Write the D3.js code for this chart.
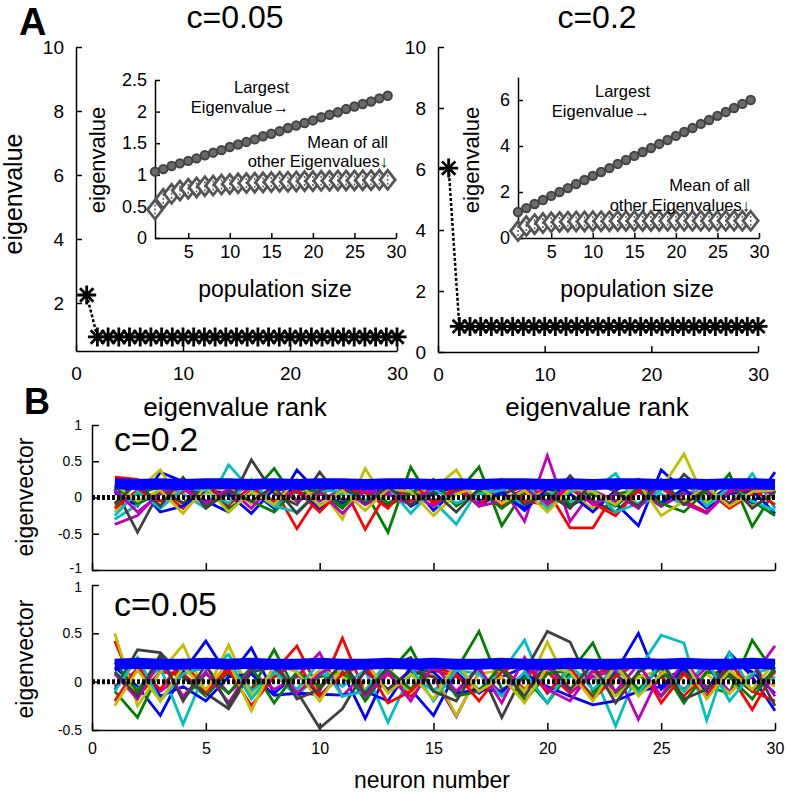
<!DOCTYPE html>
<html>
<head>
<meta charset="utf-8">
<script src="https://cdn.jsdelivr.net/npm/d3@7.9.0/dist/d3.min.js"></script>
<style>
  body { margin: 0; background: #fff; }
  svg { font-family: Arial, 'Liberation Sans', sans-serif; }
</style>
</head>
<body>
<svg id="fig" width="788" height="793"></svg>
<script>
// ---- data ----
const rank = [1, 2, 3, 4, 5, 6, 7, 8, 9, 10, 11, 12, 13, 14, 15, 16, 17, 18, 19, 20, 21, 22, 23, 24, 25, 26, 27, 28, 29, 30];
const popSize = [1, 2, 3, 4, 5, 6, 7, 8, 9, 10, 11, 12, 13, 14, 15, 16, 17, 18, 19, 20, 21, 22, 23, 24, 25, 26, 27, 28, 29];

// eigenvalue spectrum (rank 1..30)
const eigC005 = [2.25, 0.94, 0.94, 0.94, 0.94, 0.94, 0.94, 0.94, 0.94, 0.94, 0.94, 0.94, 0.94, 0.94, 0.94, 0.94, 0.94, 0.94, 0.94, 0.94, 0.94, 0.94, 0.94, 0.94, 0.94, 0.94, 0.94, 0.94, 0.94, 0.94];
const eigC02 = [6.03, 0.84, 0.84, 0.84, 0.84, 0.84, 0.84, 0.84, 0.84, 0.84, 0.84, 0.84, 0.84, 0.84, 0.84, 0.84, 0.84, 0.84, 0.84, 0.84, 0.84, 0.84, 0.84, 0.84, 0.84, 0.84, 0.84, 0.84, 0.84, 0.84];

// insets: largest eigenvalue and mean of the rest vs population size
const largestC005 = [1.05, 1.09, 1.14, 1.18, 1.22, 1.26, 1.31, 1.35, 1.39, 1.44, 1.48, 1.52, 1.56, 1.61, 1.65, 1.69, 1.74, 1.78, 1.82, 1.86, 1.91, 1.95, 1.99, 2.04, 2.08, 2.12, 2.16, 2.21, 2.25];
const meanC005 = [0.45, 0.62, 0.70, 0.75, 0.78, 0.80, 0.82, 0.83, 0.845, 0.855, 0.865, 0.87, 0.875, 0.88, 0.885, 0.89, 0.89, 0.895, 0.90, 0.90, 0.905, 0.905, 0.91, 0.91, 0.91, 0.915, 0.915, 0.92, 0.92];
const largestC02 = [1.13, 1.30, 1.48, 1.65, 1.83, 2.00, 2.17, 2.35, 2.52, 2.70, 2.87, 3.04, 3.22, 3.39, 3.57, 3.74, 3.91, 4.09, 4.26, 4.44, 4.61, 4.78, 4.96, 5.13, 5.31, 5.48, 5.65, 5.83, 6.00];
const meanC02 = [0.30, 0.52, 0.60, 0.65, 0.68, 0.70, 0.71, 0.72, 0.72, 0.73, 0.73, 0.73, 0.74, 0.74, 0.74, 0.74, 0.74, 0.74, 0.75, 0.75, 0.75, 0.75, 0.75, 0.75, 0.75, 0.75, 0.75, 0.75, 0.75];

// eigenvectors (x100), neuron 1..30
const vecsC02 = [
  [8, -12, 35, 22, -5, -20, 10, -15, 38, 5, -8, 15, -10, 20, -18, 12, -5, 8, -15, 10, -12, 5, -8, -39, 38, 10, -5, 15, -10, 35],
  [-10, 5, 15, -8, 12, -15, 5, 40, -5, 10, -12, 8, -48, 42, -10, 5, 42, -39, 10, -5, 12, -8, 5, 10, -12, 8, -5, 33, -40, 10],
  [28, 25, 10, -15, 20, 15, -8, 12, -43, 5, 18, -44, 10, -5, 15, -10, 8, -12, 5, 10, -42, -42, 8, -10, 12, -5, 10, -15, 5, 12],
  [-30, -10, 12, 5, -15, 45, 10, -12, 8, -10, 5, 12, -8, 10, -5, -37, 12, 5, -10, 8, -5, 10, 33, -12, 5, -10, 12, -8, 33, -15],
  [-37, -25, 8, 12, -10, 5, 15, -8, 10, -5, 12, -10, 8, 5, -12, 10, -8, 15, -33, 58, -33, 10, -5, 8, -12, 5, 10, -8, 12, 5],
  [-20, 10, 38, -12, 5, 15, -8, 10, -5, 12, -30, 40, -10, 5, 12, 38, -12, 8, -5, 10, 5, -15, 8, -10, 12, 60, -8, 10, -12, 5],
  [12, -48, 10, -8, 15, -12, 52, 5, -10, 35, -5, 10, -12, 8, -5, 12, -10, 5, 15, -8, 30, -5, -20, 10, -8, 32, 5, -10, 8, 15],
  [5, 15, -20, -12, 10, 5, -22, 12, 8, -15, 10, -5, 20, -12, 5, 15, -10, 8, -18, 12, 5, -20, 10, 25, -8, 12, -15, 5, 10, -22],
  [15, -8, 5, 20, -12, 10, -5, -20, 12, 8, -15, 22, -8, 5, 25, -12, 10, -15, 8, 20, -10, 5, -12, 15, -8, -20, 10, 22, -5, -25],
  [-15, 10, -5, 8, 22, -10, 15, -5, 10, -20, 12, 8, -15, 22, -8, 15, -12, 20, -5, -10, 12, -8, -25, 10, 15, -5, -20, 8, 12, -10],
  [-25, 8, -15, 12, 10, -8, 25, -12, -20, 10, 8, -5, 15, -22, 12, -8, 5, 10, 22, -15, 8, 12, -20, -8, 10, 25, -12, 15, -5, -18],
  [10, -20, 5, 15, -8, 12, -15, 20, -5, 8, -22, 10, 5, -10, 15, 22, -12, -5, 12, -8, 18, -10, 5, -15, 20, -8, -22, 10, 15, 5],
  [18, -5, 10, -22, 15, -20, 8, -10, 25, -12, 10, -18, 12, 8, -25, 5, 15, -8, 10, -20, 12, 8, -10, 20, -25, -5, 15, -12, 8, 10],
  [-8, 20, -12, 28, -15, 8, -5, 15, -22, 10, 20, -8, 15, -10, 8, -20, 12, 25, -10, 5, -15, 22, 8, -12, 25, -10, 12, 20, -15, 8]
];
const vecsC005 = [
  [15, -5, -35, 10, 42, 5, 35, -12, 8, -15, 10, -38, 12, -8, -35, 10, -12, 5, 15, -10, 8, -15, 10, 50, -8, 12, -10, 30, 5, -30],
  [-10, -37, 12, 5, -15, 10, -8, 33, -12, 5, 10, -15, 8, 35, -10, 12, 52, -8, 5, -22, 10, 40, -12, 8, -15, 10, -5, -12, 43, 8],
  [42, -15, 10, 8, -12, 15, -8, 10, 37, -10, 45, -12, 8, -15, 12, 5, -10, 15, -8, 10, -12, 8, 15, -10, 5, -15, 10, 8, -29, 12],
  [10, -8, 15, -44, 12, 28, -10, 8, -15, 10, -5, 12, -42, 8, -10, 15, -8, 10, 43, -12, 5, 10, -46, 12, 48, 40, -40, 30, -10, 5],
  [-5, 12, -10, 8, 15, -12, 10, -8, 5, 30, -15, 10, -8, 12, 5, -36, 10, -12, 8, 15, -10, 5, 12, -39, 10, -8, 15, -10, 5, 37],
  [50, -25, 10, 38, -12, 38, -15, 8, -10, 12, 5, -8, 15, -12, 10, -35, 8, 12, -10, 41, -8, 10, -15, 5, 12, -10, 8, -12, 10, -5],
  [-8, 33, 30, 5, -12, -28, 10, 15, -10, -48, -28, 12, -8, 10, 5, -12, 15, -37, 10, 52, 41, -10, 8, -12, 5, 10, -15, 8, -10, 12],
  [12, 20, -15, -5, -20, 5, 8, -14, -12, -13, -14, -10, -20, 15, 10, -12, -8, -10, 8, -5, -15, -24, -20, -10, -5, 15, -8, 22, 10, -12],
  [20, -10, 25, -18, 8, -12, 15, -22, 10, -5, 18, -20, 12, -8, 22, -15, -10, 18, -20, 8, 12, -15, 20, -8, 15, -22, 10, 5, -18, 15],
  [-20, 15, -8, 22, -10, 12, -25, 5, 20, -15, 8, 18, -22, -10, 15, 8, -20, 10, 22, -12, 15, -18, 5, 20, -22, 8, -15, 20, -10, -20],
  [-10, 25, -20, 8, 15, 22, -18, 10, -8, 20, -15, -10, 22, 15, -20, 12, 8, -15, 10, -22, 18, -8, 15, -12, 20, -10, 22, -20, 8, 15],
  [8, -18, 22, -15, 10, -22, 15, 20, -12, 8, 22, -15, 10, -20, 18, -10, 15, -22, 25, -8, -20, 12, -10, 18, -15, 22, -8, 12, 20, -15],
  [-25, 12, -20, 15, -8, 20, -30, 18, 10, -20, 15, 22, -12, 8, -18, 20, -10, 5, -22, 15, 10, -20, 18, -15, 8, 22, -18, 12, -8, 20],
  [10, -15, 28, -20, 18, -25, 12, 22, -18, -8, 20, -12, 15, 25, -10, -20, 18, 12, -15, 20, -8, 18, -22, 10, 22, -18, -8, 15, 20, -25]
];
const principalC02 = [19, 18, 19, 18, 19, 19, 18, 19, 18, 19, 19, 18, 19, 19, 18, 19, 18, 19, 19, 18, 19, 18, 19, 19, 18, 19, 18, 19, 19, 18];
const principalC005 = [18, 19, 18, 18, 19, 18, 19, 18, 18, 19, 18, 18, 19, 18, 19, 18, 18, 19, 18, 18, 19, 18, 18, 19, 18, 19, 18, 18, 19, 18];

const lineColors = ['#0000ff', '#008000', '#ff0000', '#00bfbf', '#bf00bf', '#bfbf00', '#404040'];

const svg = d3.select('#fig');

// matlab-ish axis: inward ticks, no outer ticks
function drawAxis(g, axis, transform, fontSize) {
  const a = g.append('g')
    .attr('transform', transform)
    .call(axis);
  a.attr('font-family', null).attr('font-size', fontSize);
  a.select('.domain').attr('stroke', '#000').attr('stroke-width', 1.5);
  a.selectAll('.tick line').attr('stroke', '#000').attr('stroke-width', 1.5);
  a.selectAll('.tick text').attr('fill', '#000');
  return a;
}

function addText(txt, x, y, size, opts = {}) {
  const t = svg.append('text')
    .attr('x', x)
    .attr('y', y)
    .attr('font-size', size)
    .attr('text-anchor', opts.anchor || 'start')
    .attr('font-weight', opts.bold ? 'bold' : null)
    .text(txt);
  if (opts.rotate) t.attr('transform', `rotate(-90, ${x}, ${y})`);
  return t;
}

function starPath(s) {
  const a = s * 0.707;
  return `M${-s},0H${s}M0,${-s}V${s}M${-a},${-a}L${a},${a}M${-a},${a}L${a},${-a}`;
}

// ---- panel A main plots ----
function renderSpectrum(vals, xr, yDomain, yr, yTicks) {
  const x = d3.scaleLinear().domain([0, 30]).range(xr);
  const y = d3.scaleLinear().domain(yDomain).range(yr);
  const g = svg.append('g');

  drawAxis(g, d3.axisBottom(x).tickValues([0, 10, 20, 30]).tickSizeInner(-6).tickSizeOuter(0).tickPadding(16),
    `translate(0,${yr[0]})`, 19);
  drawAxis(g, d3.axisLeft(y).tickValues(yTicks).tickSizeInner(-6).tickSizeOuter(0).tickPadding(12),
    `translate(${xr[0]},0)`, 19);

  g.append('path')
    .datum(vals)
    .attr('fill', 'none')
    .attr('stroke', '#000')
    .attr('stroke-width', 2.5)
    .attr('stroke-dasharray', '3,2')
    .attr('d', d3.line().x((d, i) => x(rank[i])).y(d => y(d)));

  g.selectAll('path.star')
    .data(vals)
    .join('path')
      .attr('class', 'star')
      .attr('transform', (d, i) => `translate(${x(rank[i])},${y(d)})`)
      .attr('d', starPath(9.5))
      .attr('fill', 'none')
      .attr('stroke', '#000')
      .attr('stroke-width', 2.8);
}

// ---- panel A insets ----
function renderInset(largest, mean, xr, yDomain, yr, yTicks) {
  const x = d3.scaleLinear().domain([1, 30]).range(xr);
  const y = d3.scaleLinear().domain(yDomain).range(yr);
  const g = svg.append('g');

  drawAxis(g, d3.axisBottom(x).tickValues([5, 10, 15, 20, 25, 30]).tickSizeInner(-5).tickSizeOuter(0).tickPadding(7),
    `translate(0,${yr[0]})`, 18);
  drawAxis(g, d3.axisLeft(y).tickValues(yTicks).tickFormat(d => String(d)).tickSizeInner(-5).tickSizeOuter(0).tickPadding(8),
    `translate(${xr[0]},0)`, 18);

  const dia = g.selectAll('g.dia')
    .data(mean)
    .join('g')
      .attr('class', 'dia')
      .attr('transform', (d, i) => `translate(${x(popSize[i])},${y(d)})`);
  dia.append('path')
    .attr('d', 'M0,-9.5L7.5,0L0,9.5L-7.5,0Z')
    .attr('fill', '#fff')
    .attr('stroke', '#555')
    .attr('stroke-width', 2.8);
  dia.append('path')
    .attr('d', 'M0,-5V5')
    .attr('stroke', '#555')
    .attr('stroke-width', 1.5)
    .attr('stroke-dasharray', '2,2');

  g.selectAll('circle')
    .data(largest)
    .join('circle')
      .attr('cx', (d, i) => x(popSize[i]))
      .attr('cy', d => y(d))
      .attr('r', 4.2)
      .attr('fill', '#6a6a6a')
      .attr('stroke', '#444')
      .attr('stroke-width', 2);
}

renderSpectrum(eigC005, [76, 397], [0.5, 10], [351, 47], [2, 4, 6, 8, 10]);
renderSpectrum(eigC02, [438, 758], [0, 10], [352, 47], [0, 2, 4, 6, 8, 10]);
renderInset(largestC005, meanC005, [155, 396], [0, 2.5], [238, 80], [0, 0.5, 1, 1.5, 2, 2.5]);
renderInset(largestC02, meanC02, [518, 759], [0, 7], [238, 77], [0, 2, 4, 6]);

// panel A labels
addText('A', 19, 35, 38, { bold: true });
addText('c=0.05', 235, 28, 32, { anchor: 'middle' });
addText('c=0.2', 597, 28, 32, { anchor: 'middle' });
addText('eigenvalue', 22, 194, 25, { anchor: 'middle', rotate: true });
addText('eigenvalue rank', 235, 416, 26, { anchor: 'middle' });
addText('eigenvalue rank', 597, 416, 26, { anchor: 'middle' });
addText('eigenvalue', 105, 160, 22, { anchor: 'middle', rotate: true });
addText('eigenvalue', 479, 160, 22, { anchor: 'middle', rotate: true });
addText('population size', 275, 297, 23, { anchor: 'middle' });
addText('population size', 637, 297, 23, { anchor: 'middle' });
addText('Largest', 289, 93, 16.5, { anchor: 'end' });
addText('Eigenvalue\u2192', 289, 113, 16.5, { anchor: 'end' });
addText('Mean of all', 388, 148, 16.5, { anchor: 'end' });
addText('other Eigenvalues\u2193', 388, 167, 16.5, { anchor: 'end' });
addText('Largest', 650, 97, 16.5, { anchor: 'end' });
addText('Eigenvalue\u2192', 650, 117, 16.5, { anchor: 'end' });
addText('Mean of all', 750, 191, 16.5, { anchor: 'end' });
addText('other Eigenvalues\u2193', 750, 211, 16.5, { anchor: 'end' });

// ---- panel B ----
function renderVectors(vecs, principal, yDomain, yr, yTicks, showX, edgeShift) {
  const x = d3.scaleLinear().domain([0, 30]).range([92, 775]);
  const y = d3.scaleLinear().domain(yDomain).range(yr);
  const g = svg.append('g');

  const xAxis = d3.axisBottom(x).tickValues([0, 5, 10, 15, 20, 25, 30])
    .tickSizeInner(-7).tickSizeOuter(0).tickPadding(13);
  if (!showX) xAxis.tickFormat('');
  drawAxis(g, xAxis, `translate(0,${yr[0]})`, 16);
  const yAx = drawAxis(g, d3.axisLeft(y).tickValues(yTicks).tickFormat(d => String(d)).tickSizeInner(-7).tickSizeOuter(0).tickPadding(10),
    `translate(92,0)`, 14);
  // keep the -1 / 1 labels of the stacked axes from touching
  yAx.selectAll('.tick text')
    .filter(d => d === edgeShift.value)
    .attr('y', edgeShift.dy);

  const line = d3.line().x((d, i) => x(rank[i])).y(d => y(d / 100));

  g.selectAll('path.vec')
    .data(vecs)
    .join('path')
      .attr('class', 'vec')
      .attr('fill', 'none')
      .attr('stroke', (d, i) => lineColors[i % lineColors.length])
      .attr('stroke-width', 2.8)
      .attr('stroke-linejoin', 'miter')
      .attr('d', line);

  g.append('path')
    .datum(principal)
    .attr('fill', 'none')
    .attr('stroke', '#0000ff')
    .attr('stroke-width', 11)
    .attr('d', line);

  g.append('line')
    .attr('x1', x(0))
    .attr('x2', x(30))
    .attr('y1', y(0))
    .attr('y2', y(0))
    .attr('stroke', '#000')
    .attr('stroke-width', 5)
    .attr('stroke-dasharray', '3,2');
}

renderVectors(vecsC02, principalC02, [-1, 1], [570, 425], [-1, -0.5, 0, 0.5, 1], false, { value: -1, dy: -2 });
renderVectors(vecsC005, principalC005, [-0.5, 1], [730, 585], [-0.5, 0, 0.5, 1], true, { value: 1, dy: 2 });

addText('B', 24, 414, 36, { bold: true });
addText('c=0.2', 114, 451, 34);
addText('c=0.05', 114, 616, 34);
addText('eigenvector', 33, 497, 23, { anchor: 'middle', rotate: true });
addText('eigenvector', 33, 659, 23, { anchor: 'middle', rotate: true });
addText('neuron number', 432, 788, 23, { anchor: 'middle' });
</script>
</body>
</html>
